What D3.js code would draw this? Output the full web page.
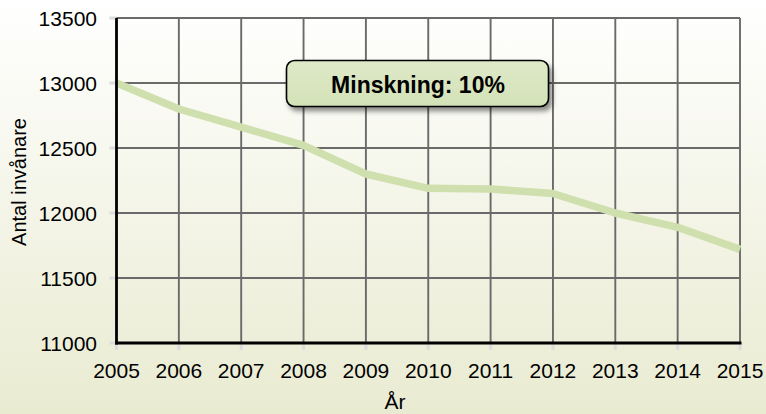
<!DOCTYPE html>
<html>
<head>
<meta charset="utf-8">
<title>Antal invånare</title>
<style>
body { margin: 0; }
svg text { font-family: "Liberation Sans", Arial, sans-serif; fill: #000; }
.grid line { stroke: #6a6a6a; stroke-width: 1.9px; }
.tick-mark { stroke: #dcdcdc; stroke-width: 3px; }
</style>
</head>
<body>
<svg width="766" height="414"></svg>
<script src="https://cdn.jsdelivr.net/npm/d3@7"></script>
<script>
// data
var years = [2005, 2006, 2007, 2008, 2009, 2010, 2011, 2012, 2013, 2014, 2015];
var residents = [13000, 12800, 12660, 12520, 12300, 12190, 12185, 12150, 12000, 11890, 11720];
var yTicks = [11000, 11500, 12000, 12500, 13000, 13500];
var note = "Minskning: 10%";

var svg = d3.select("svg"),
    width = +svg.attr("width"),
    height = +svg.attr("height");

var plotLeft = 116.5, plotRight = 740, plotTop = 18, plotBottom = 343;

// background gradient
var defs = svg.append("defs");
var bg = defs.append("linearGradient").attr("id", "bg").attr("x1", 0).attr("y1", 0).attr("x2", 0).attr("y2", 1);
bg.append("stop").attr("offset", "0%").attr("stop-color", "#ffffff");
bg.append("stop").attr("offset", "100%").attr("stop-color", "#e9ebd1");

var boxFill = defs.append("linearGradient").attr("id", "boxfill").attr("x1", 0).attr("y1", 0).attr("x2", 0).attr("y2", 1);
boxFill.append("stop").attr("offset", "0%").attr("stop-color", "#dfe9c9");
boxFill.append("stop").attr("offset", "100%").attr("stop-color", "#d3e2b6");

var shadow = defs.append("filter").attr("id", "shadow").attr("x", "-20%").attr("y", "-30%").attr("width", "140%").attr("height", "170%");
shadow.append("feDropShadow").attr("dx", 3).attr("dy", 4).attr("stdDeviation", 2.5)
  .attr("flood-color", "#000").attr("flood-opacity", 0.45);

svg.append("rect").attr("width", width).attr("height", height).attr("fill", "url(#bg)");

var x = d3.scaleLinear().domain([2005, 2015]).range([plotLeft, plotRight]);
var y = d3.scaleLinear().domain([11000, 13500]).range([plotBottom, plotTop]);

// small outside tick marks
svg.append("g").selectAll("line").data(yTicks).enter().append("line")
  .attr("class", "tick-mark")
  .attr("x1", plotLeft - 7).attr("x2", plotLeft)
  .attr("y1", function(d) { return y(d); }).attr("y2", function(d) { return y(d); });
svg.append("g").selectAll("line").data(years).enter().append("line")
  .attr("class", "tick-mark")
  .attr("x1", function(d) { return x(d); }).attr("x2", function(d) { return x(d); })
  .attr("y1", plotBottom).attr("y2", plotBottom + 7);

// grid
var grid = svg.append("g").attr("class", "grid");
grid.selectAll(".h").data(yTicks.slice(1)).enter().append("line")
  .attr("x1", plotLeft).attr("x2", plotRight)
  .attr("y1", function(d) { return y(d); }).attr("y2", function(d) { return y(d); });
grid.selectAll(".v").data(years.slice(1)).enter().append("line")
  .attr("y1", plotTop).attr("y2", plotBottom)
  .attr("x1", function(d) { return x(d); }).attr("x2", function(d) { return x(d); });

// data line
var line = d3.line()
  .x(function(d, i) { return x(years[i]); })
  .y(function(d) { return y(d); });

svg.append("path")
  .datum(residents)
  .attr("fill", "none")
  .attr("stroke", "#cfdfad")
  .attr("stroke-width", 7.5)
  .attr("stroke-linejoin", "round")
  .attr("d", line);

// axes lines
svg.append("line").attr("x1", plotLeft).attr("x2", plotLeft).attr("y1", plotTop).attr("y2", plotBottom + 1.5)
  .attr("stroke", "#000").attr("stroke-width", 2.8);
svg.append("line").attr("x1", plotLeft - 1.4).attr("x2", plotRight + 1.5).attr("y1", plotBottom).attr("y2", plotBottom)
  .attr("stroke", "#000").attr("stroke-width", 2.8);

// tick labels
svg.append("g").selectAll("text").data(yTicks).enter().append("text")
  .attr("x", 97).attr("y", function(d) { return y(d) + 7.5; })
  .attr("text-anchor", "end")
  .style("font-size", "21px")
  .text(function(d) { return d; });

svg.append("g").selectAll("text").data(years).enter().append("text")
  .attr("x", function(d) { return x(d); }).attr("y", 378)
  .attr("text-anchor", "middle")
  .style("font-size", "21px")
  .text(function(d) { return d; });

// axis titles
svg.append("text")
  .attr("transform", "translate(26,182) rotate(-90)")
  .attr("text-anchor", "middle")
  .style("font-size", "20px")
  .text("Antal invånare");

svg.append("text")
  .attr("x", 395).attr("y", 409)
  .attr("text-anchor", "middle")
  .style("font-size", "21px")
  .text("År");

// annotation box
svg.append("rect")
  .attr("x", 286.5).attr("y", 60.5).attr("width", 262).attr("height", 46)
  .attr("rx", 8).attr("ry", 8)
  .attr("fill", "url(#boxfill)")
  .attr("stroke", "#000").attr("stroke-width", 1.6)
  .attr("filter", "url(#shadow)");

svg.append("text")
  .attr("x", 418).attr("y", 92.5)
  .attr("text-anchor", "middle")
  .style("font-size", "23px")
  .style("font-weight", "bold")
  .text(note);
</script>
</body>
</html>
